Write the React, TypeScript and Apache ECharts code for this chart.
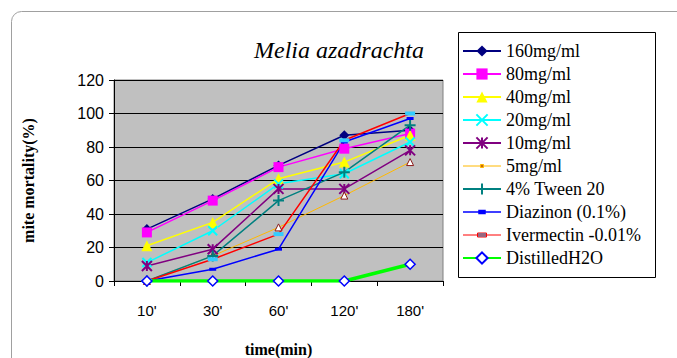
import React, { useEffect, useRef } from "react";
import * as echarts from "echarts";

const categories = ["10'", "30'", "60'", "120'", "180'"];
const seriesNames = [
  "160mg/ml",
  "80mg/ml",
  "40mg/ml",
  "20mg/ml",
  "10mg/ml",
  "5mg/ml",
  "4% Tween 20",
  "Diazinon (0.1%)",
  "Ivermectin -0.01%",
  "DistilledH2O",
];
const v160 = [31, 49, 69, 87, 90];
const v80 = [29, 48, 68, 79, 88];
const v40 = [21, 35, 61, 71, 87];
const v20 = [11, 30, 58, 64, 83];
const v10 = [9, 19, 55, 55, 78];
const v5 = [0, 15, 32, 51, 71];
const vTween = [0, 15, 48, 65, 93];
const vDiaz = [0, 7, 19, 83, 97];
const vIver = [0, 13, 28, 84, 100];
const vWater = [0, 0, 0, 0, 10];
const yTicks = [0, 20, 40, 60, 80, 100, 120];

const SERIF = "'Liberation Serif', 'Times New Roman', serif";
const SANS = "'Liberation Sans', Arial, sans-serif";

const X_PATH = "path://M0,0L10,10M10,0L0,10";
const STAR_PATH = "path://M0,0L10,10M10,0L0,10M5,0L5,10";
const PLUS_PATH = "path://M5,0L5,10M0,5L10,5";
const DASH_PATH = "path://M0,0L10,0L10,4L0,4Z";

// legend icons spanning the full 38x14 item box
const ICON_5 = "path://M0,0M0,14M38,0M0,7L38,7M17.5,5.5L20.5,5.5L20.5,8.5L17.5,8.5Z";
const ICON_DIAZ = "path://M0,0M0,14M38,0M0,7L38,7M16,5.5L22,5.5L22,8.5L16,8.5Z";
const ICON_IVER = "path://M0,0M0,14M38,0M0,7L38,7M14.5,5L23.5,5L23.5,9L14.5,9Z";

export default function App() {
  const ref = useRef<HTMLDivElement>(null);
  useEffect(() => {
    if (!ref.current) return;
    const chart = echarts.init(ref.current, null, { renderer: "svg" });
    const mk = (
      name: string,
      data: number[],
      color: string,
      symbol: string,
      size: number | number[],
      item: any,
      width = 1.5
    ) => ({
      name,
      type: "line",
      data,
      symbol,
      symbolSize: size,
      lineStyle: { color, width },
      itemStyle: item,
      emphasis: { disabled: true },
    });
    const series = [
      mk(seriesNames[0], v160, "#000080", "diamond", 10, { color: "#000080" }),
      mk(seriesNames[1], v80, "#FF00FF", "rect", 10, { color: "#FF00FF" }),
      mk(seriesNames[2], v40, "#FFFF00", "triangle", 11, { color: "#FFFF00" }),
      mk(seriesNames[3], v20, "#00FFFF", X_PATH, 9, {
        color: "#00FFFF",
        borderColor: "#00FFFF",
        borderWidth: 2,
      }),
      mk(seriesNames[4], v10, "#800080", STAR_PATH, 10, {
        color: "#800080",
        borderColor: "#800080",
        borderWidth: 2,
      }),
      mk(seriesNames[5], v5, "#FFB800", "triangle", 7, {
        color: "#FFFFFF",
        borderColor: "#8B1A1A",
        borderWidth: 1,
      }, 1),
      mk(seriesNames[6], vTween, "#008080", PLUS_PATH, 11, {
        color: "#008080",
        borderColor: "#008080",
        borderWidth: 2,
      }),
      mk(seriesNames[7], vDiaz, "#0000FF", DASH_PATH, [7, 3], { color: "#0000FF" }),
      mk(seriesNames[8], vIver, "#FF0000", DASH_PATH, [10, 4], { color: "#33CCFF" }),
      mk(seriesNames[9], vWater, "#00FF00", "diamond", 10, {
        color: "#FFFFFF",
        borderColor: "#0000FF",
        borderWidth: 1.5,
      }, 3.5),
    ];
    const legendData: any[] = seriesNames.map((n) => ({ name: n }));
    legendData[5] = {
      name: seriesNames[5],
      icon: ICON_5,
      itemStyle: { color: "#8B1A1A", borderColor: "#FFB800", borderWidth: 1 },
    };
    legendData[7] = {
      name: seriesNames[7],
      icon: ICON_DIAZ,
      itemStyle: { color: "#0000FF", borderColor: "#0000FF", borderWidth: 1.5 },
    };
    legendData[8] = {
      name: seriesNames[8],
      icon: ICON_IVER,
      itemStyle: { color: "#33CCFF", borderColor: "#FF0000", borderWidth: 1 },
    };
    chart.setOption({
      animation: false,
      backgroundColor: "#FFFFFF",
      title: {
        text: "Melia azadrachta",
        left: 334,
        top: 33,
        textAlign: "center",
        textStyle: {
          fontFamily: SERIF,
          fontStyle: "italic",
          fontWeight: "normal",
          fontSize: 24,
          color: "#000",
        },
      },
      graphic: [
        {
          type: "rect",
          shape: { x: 11.5, y: 11.5, width: 720, height: 420, r: 10 },
          style: { fill: "none", stroke: "#A0A0A0", lineWidth: 1 },
          silent: true,
        },
        {
          type: "rect",
          shape: { x: 458.5, y: 32.5, width: 197, height: 245 },
          style: { fill: "#FFFFFF", stroke: "#000000", lineWidth: 1 },
          z: -1,
          silent: true,
        },
      ],
      legend: {
        orient: "vertical",
        left: 462,
        top: 42,
        padding: 0,
        itemWidth: 38,
        itemHeight: 14,
        itemGap: 5,
        selectedMode: false,
        data: legendData,
        textStyle: {
          fontFamily: SERIF,
          fontSize: 18,
          color: "#000",
        },
      },
      grid: {
        left: 114,
        top: 80,
        width: 329,
        height: 201,
        show: true,
        backgroundColor: "#C0C0C0",
        borderColor: "#808080",
        borderWidth: 1,
        containLabel: false,
        outerBoundsMode: "none",
      },
      xAxis: {
        type: "category",
        data: categories,
        boundaryGap: true,
        name: "time(min)",
        nameLocation: "middle",
        nameGap: 60,
        nameTextStyle: {
          fontFamily: SERIF,
          fontWeight: "bold",
          fontSize: 16,
          color: "#000",
        },
        axisLine: { show: true, lineStyle: { color: "#000", width: 1 } },
        axisTick: { show: true, length: 5, lineStyle: { color: "#000" } },
        axisLabel: {
          margin: 22,
          fontFamily: SANS,
          fontSize: 15,
          color: "#000",
        },
        splitLine: { show: false },
      },
      yAxis: {
        type: "value",
        min: yTicks[0],
        max: yTicks[yTicks.length - 1],
        interval: 20,
        name: "mite mortality(%)",
        nameLocation: "middle",
        nameGap: 78,
        nameTextStyle: {
          fontFamily: SERIF,
          fontWeight: "bold",
          fontSize: 16,
          color: "#000",
        },
        axisLine: { show: true, lineStyle: { color: "#000", width: 1 } },
        axisTick: { show: true, length: 5, lineStyle: { color: "#000" } },
        axisLabel: {
          margin: 10,
          fontFamily: SANS,
          fontSize: 16,
          color: "#000",
        },
        splitLine: { show: true, lineStyle: { color: "#000", width: 1 } },
      },
      series,
    });
    return () => chart.dispose();
  }, []);
  return (
    <div
      ref={ref}
      style={{ position: "fixed", left: 0, top: 0, width: 677, height: 358 }}
    />
  );
}
